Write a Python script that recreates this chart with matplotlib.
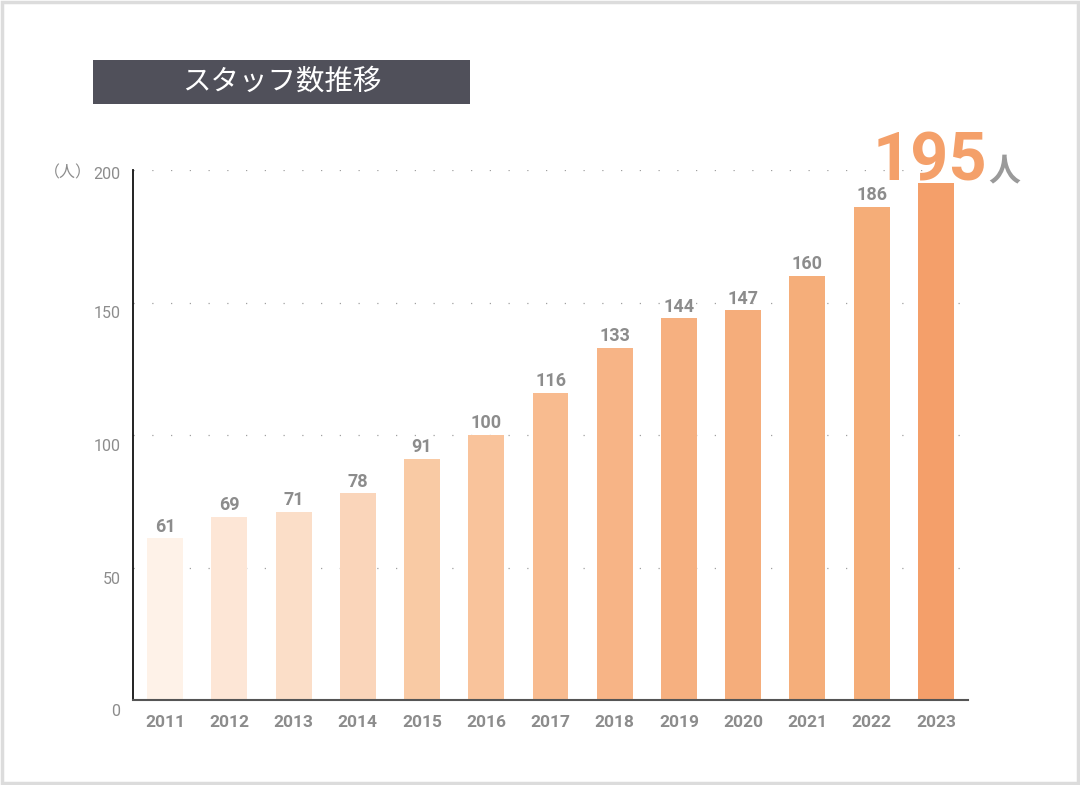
import matplotlib
matplotlib.use("Agg")
import matplotlib.pyplot as plt
from matplotlib.patches import Rectangle
from matplotlib.transforms import ScaledTranslation

# ---- data ----
years = ["2011", "2012", "2013", "2014", "2015", "2016", "2017",
         "2018", "2019", "2020", "2021", "2022", "2023"]
staff = [61, 69, 71, 78, 91, 100, 116, 133, 144, 147, 160, 186, 195]
bar_colors = ["#FEF2E8", "#FDE6D6", "#FBDEC8", "#FAD5BA", "#F9CAA4",
              "#F9C39B", "#F8BB8F", "#F7B486", "#F6B080", "#F5AD7B",
              "#F5AE7A", "#F5AD78", "#F49F6A"]
yticks = [0, 50, 100, 150, 200]
title_text = "スタッフ数推移"
unit_label = "（人）"
highlight_value = "195"
highlight_unit = "人"

CJK = ["Noto Sans CJK JP", "DejaVu Sans"]
NUM = ["Roboto", "DejaVu Sans"]
GRAY = "#8c8c8c"

fig = plt.figure(figsize=(10.8, 7.85), dpi=100)
W, H = 1080, 785

def fx(px):
    return px / W

def fy(py):
    return 1 - py / H

# outer frame
fig.patches.append(Rectangle((0.0015, 0.002), 0.997, 0.996, transform=fig.transFigure,
                             fill=False, edgecolor="#dcdcdc", linewidth=2.5))

# title box
fig.patches.append(Rectangle((fx(93), fy(104)), fx(470) - fx(93), fy(60) - fy(104),
                             transform=fig.transFigure, facecolor="#50505A",
                             edgecolor="none"))
fig.text(fx(282), fy(82), title_text, color="white", fontsize=20.5,
         family=CJK, ha="center", va="center")

# axes
ax = fig.add_axes([fx(133), fy(700), fx(968) - fx(133), (700 - 170) / H])
x = list(range(len(years)))
ax.bar(x, staff, width=0.56, color=bar_colors, zorder=2)
ax.set_xlim(-0.5, 12.5)
ax.set_ylim(0, 200)

for s in ["top", "right"]:
    ax.spines[s].set_visible(False)
ax.spines["left"].set_color("#111111")
ax.spines["left"].set_linewidth(1.3)
ax.spines["bottom"].set_color("#555555")
ax.spines["bottom"].set_linewidth(1.5)

ax.set_yticks(yticks)
ax.set_yticklabels([str(v) for v in yticks])
ax.yaxis.grid(True, linestyle=(0, (1, 14)), color="#a0a0a0", linewidth=0.9, zorder=0)
ax.set_axisbelow(True)
ax.tick_params(axis="y", length=0, pad=9, labelsize=11.5, labelcolor=GRAY)
for lab, v in zip(ax.get_yticklabels(), yticks):
    lab.set_family(NUM)
    dy = -3 if v == 200 else -10
    lab.set_transform(lab.get_transform() + ScaledTranslation(0, dy / 100, fig.dpi_scale_trans))

ax.set_xticks(x)
ax.set_xticklabels(years)
ax.tick_params(axis="x", length=0, pad=11, labelsize=12.5, labelcolor=GRAY)
for lab in ax.get_xticklabels():
    lab.set_family(NUM)
    lab.set_fontweight("bold")

# value labels (all except the highlighted last one)
for xi, v in zip(x[:-1], staff[:-1]):
    ax.annotate(str(v), (xi, v), xytext=(0, 2), textcoords="offset points",
                ha="center", va="bottom", fontsize=13, fontweight="bold",
                color=GRAY, family=NUM)

# highlighted last value
ax.annotate(highlight_value, (x[-1], staff[-1]), xytext=(-4, 2), textcoords="offset points",
            ha="center", va="baseline", fontsize=48, fontweight="bold",
            color="#F4A06A", family=NUM, zorder=5, annotation_clip=False)
fig.text(fx(1004), fy(180), highlight_unit, color="#9a9a9a", fontsize=23,
         fontweight="bold", family=CJK, ha="center", va="baseline")

# unit label
fig.text(fx(68), fy(173), unit_label, color=GRAY, fontsize=11.5, family=CJK,
         ha="center", va="center")

fig.savefig("out.png", dpi=100)
